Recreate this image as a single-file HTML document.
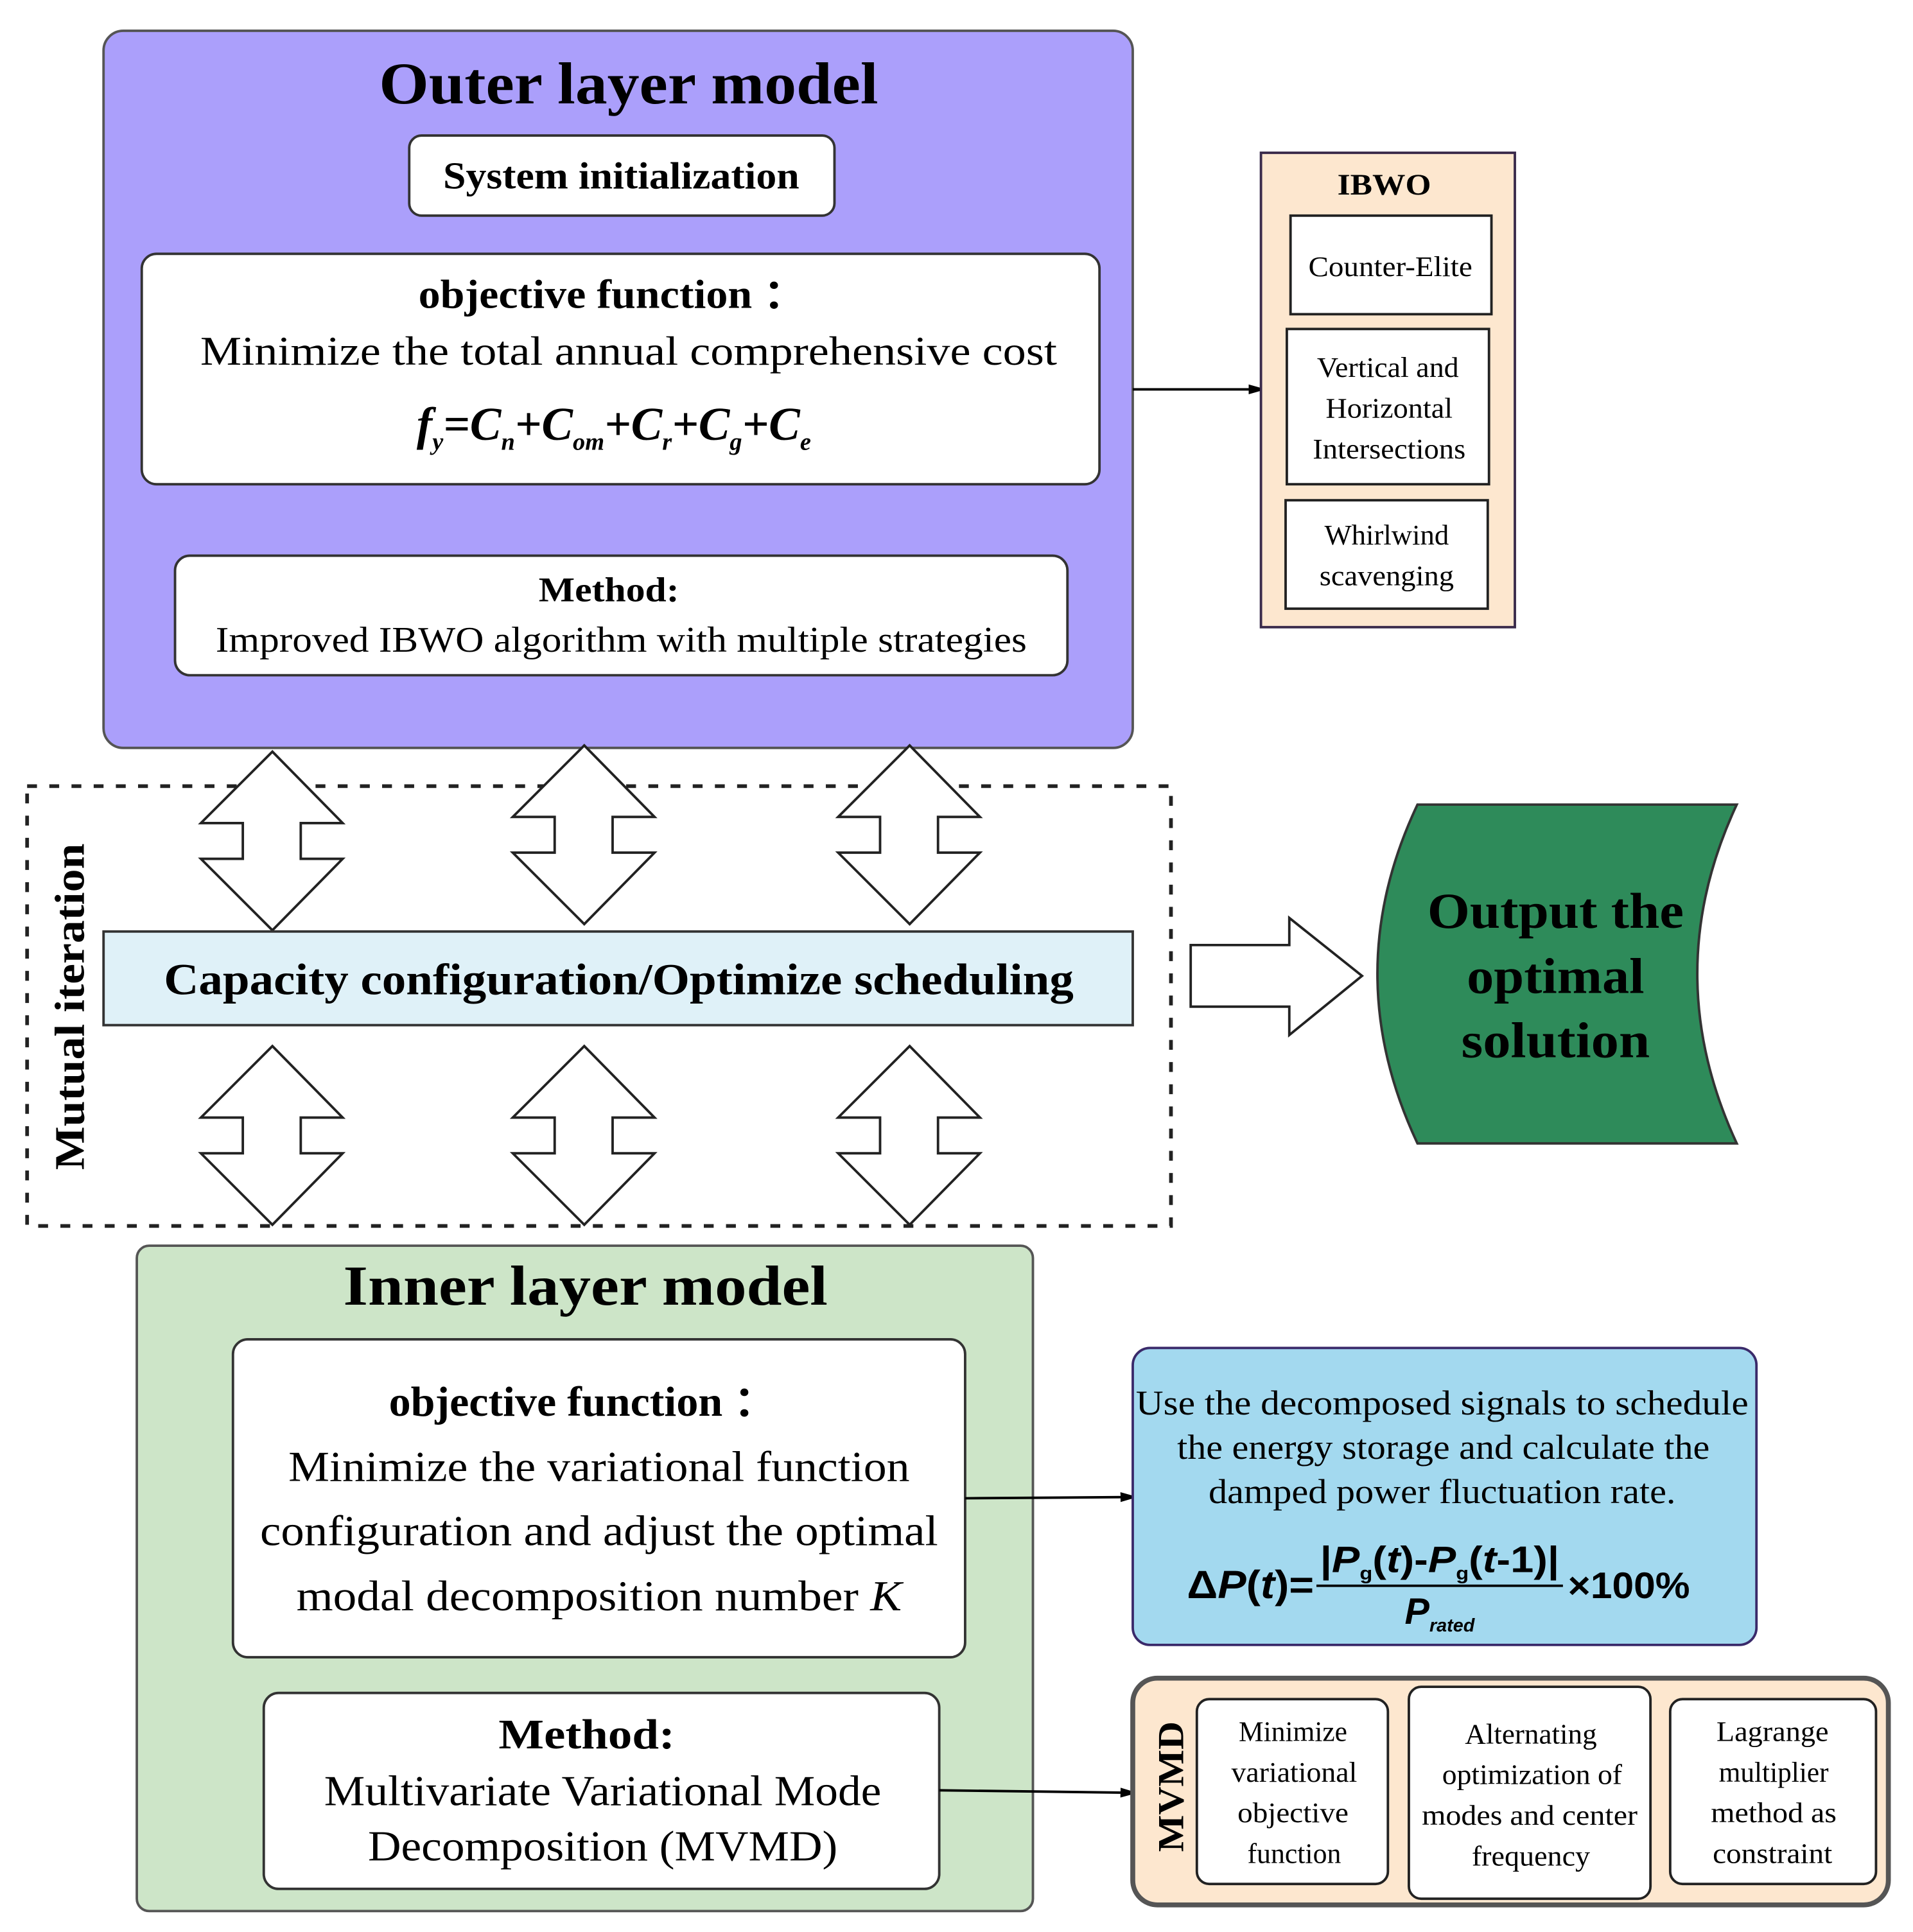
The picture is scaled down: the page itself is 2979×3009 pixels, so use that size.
<!DOCTYPE html>
<html><head><meta charset="utf-8"><style>html,body{margin:0;padding:0;background:#fff}svg{display:block}</style></head>
<body>
<svg width="2979" height="3009" viewBox="0 0 1552 1568" preserveAspectRatio="none" xmlns="http://www.w3.org/2000/svg" font-family="Liberation Serif, serif">
<defs><marker id="ah" markerWidth="10" markerHeight="8" refX="10" refY="4" orient="auto" markerUnits="userSpaceOnUse"><path d="M0,0 L14,4 L0,8 Z" fill="#000"/></marker></defs>
<rect x="84" y="25" width="835" height="582" rx="16" fill="#ab9ffb" stroke="#555" stroke-width="2"/>
<text x="510" y="84" text-anchor="middle" font-size="48" font-weight="bold" textLength="405" lengthAdjust="spacingAndGlyphs">Outer layer model</text>
<rect x="332" y="110" width="345" height="65" rx="10" fill="#fff" stroke="#333" stroke-width="2"/>
<text x="504" y="153" text-anchor="middle" font-size="31" font-weight="bold" textLength="289" lengthAdjust="spacingAndGlyphs">System initialization</text>
<rect x="115" y="206" width="777" height="187" rx="12" fill="#fff" stroke="#333" stroke-width="2"/>
<text x="497" y="250" text-anchor="middle" font-size="33" font-weight="bold" textLength="315" lengthAdjust="spacingAndGlyphs">objective function ：</text>
<text x="510" y="296" text-anchor="middle" font-size="33" textLength="695" lengthAdjust="spacingAndGlyphs">Minimize the total annual comprehensive cost</text>
<text x="498" y="357" text-anchor="middle" font-size="38" font-weight="bold" font-style="italic">f<tspan font-size="20" dy="8">y</tspan><tspan dy="-8">=C</tspan><tspan font-size="20" dy="8">n</tspan><tspan dy="-8">+C</tspan><tspan font-size="20" dy="8">om</tspan><tspan dy="-8">+C</tspan><tspan font-size="20" dy="8">r</tspan><tspan dy="-8">+C</tspan><tspan font-size="20" dy="8">g</tspan><tspan dy="-8">+C</tspan><tspan font-size="20" dy="8">e</tspan></text>
<rect x="142" y="451" width="724" height="97" rx="12" fill="#fff" stroke="#333" stroke-width="2"/>
<text x="494" y="488" text-anchor="middle" font-size="28" font-weight="bold" textLength="114" lengthAdjust="spacingAndGlyphs">Method:</text>
<text x="504" y="529" text-anchor="middle" font-size="29" textLength="658" lengthAdjust="spacingAndGlyphs">Improved IBWO algorithm with multiple strategies</text>
<line x1="919" y1="316" x2="1023" y2="316" stroke="#000" stroke-width="2" marker-end="url(#ah)"/>
<rect x="1023" y="124" width="206" height="385" fill="#fde7cf" stroke="#3a2a4a" stroke-width="2"/>
<text x="1123" y="158" text-anchor="middle" font-size="24" font-weight="bold" textLength="76" lengthAdjust="spacingAndGlyphs">IBWO</text>
<rect x="1047" y="175" width="163" height="80" fill="#fff" stroke="#222" stroke-width="2"/>
<text x="1128" y="224" text-anchor="middle" font-size="23" textLength="133" lengthAdjust="spacingAndGlyphs">Counter-Elite</text>
<rect x="1044" y="267" width="164" height="126" fill="#fff" stroke="#222" stroke-width="2"/>
<text x="1126" y="306" text-anchor="middle" font-size="23" textLength="115" lengthAdjust="spacingAndGlyphs">Vertical and</text>
<text x="1127" y="339" text-anchor="middle" font-size="23" textLength="103" lengthAdjust="spacingAndGlyphs">Horizontal</text>
<text x="1127" y="372" text-anchor="middle" font-size="23" textLength="124" lengthAdjust="spacingAndGlyphs">Intersections</text>
<rect x="1043" y="406" width="164" height="88" fill="#fff" stroke="#222" stroke-width="2"/>
<text x="1125" y="442" text-anchor="middle" font-size="23" textLength="101" lengthAdjust="spacingAndGlyphs">Whirlwind</text>
<text x="1125" y="475" text-anchor="middle" font-size="23" textLength="109" lengthAdjust="spacingAndGlyphs">scavenging</text>
<rect x="22" y="638" width="928" height="357" fill="none" stroke="#222" stroke-width="3" stroke-dasharray="8,10"/>
<text transform="translate(68,817) rotate(-90)" text-anchor="middle" font-size="34" font-weight="bold" textLength="265" lengthAdjust="spacingAndGlyphs">Mutual iteration</text>
<g fill="#fff" stroke="#222" stroke-width="2">
<path d="M221,610 L278,668 L244,668 L244,697 L278,697 L221,755 L163,697 L197,697 L197,668 L163,668 Z"/>
<path d="M474,605 L531,663 L497,663 L497,692 L531,692 L474,750 L416,692 L450,692 L450,663 L416,663 Z"/>
<path d="M738,605 L795,663 L761,663 L761,692 L795,692 L738,750 L680,692 L714,692 L714,663 L680,663 Z"/>
<path d="M221,849 L278,907 L244,907 L244,936 L278,936 L221,994 L163,936 L197,936 L197,907 L163,907 Z"/>
<path d="M474,849 L531,907 L497,907 L497,936 L531,936 L474,994 L416,936 L450,936 L450,907 L416,907 Z"/>
<path d="M738,849 L795,907 L761,907 L761,936 L795,936 L738,994 L680,936 L714,936 L714,907 L680,907 Z"/>
<path d="M966,767 L1046,767 L1046,745 L1105,792 L1046,840 L1046,817 L966,817 Z"/>
</g>
<rect x="84" y="756" width="835" height="76" fill="#dff1f8" stroke="#333" stroke-width="2"/>
<text x="502" y="807" text-anchor="middle" font-size="36" font-weight="bold" textLength="738" lengthAdjust="spacingAndGlyphs">Capacity configuration/Optimize scheduling</text>
<path d="M1150,653 L1409,653 Q1345,790 1409,928 L1150,928 Q1085,790 1150,653 Z" fill="#2e8b5a" stroke="#333" stroke-width="2"/>
<text x="1262" y="753" text-anchor="middle" font-size="41" font-weight="bold" textLength="208" lengthAdjust="spacingAndGlyphs">Output the</text>
<text x="1262" y="806" text-anchor="middle" font-size="41" font-weight="bold" textLength="144" lengthAdjust="spacingAndGlyphs">optimal</text>
<text x="1262" y="858" text-anchor="middle" font-size="41" font-weight="bold" textLength="153" lengthAdjust="spacingAndGlyphs">solution</text>
<rect x="111" y="1011" width="727" height="540" rx="10" fill="#cde5c8" stroke="#555" stroke-width="2"/>
<text x="475" y="1059" text-anchor="middle" font-size="46" font-weight="bold" textLength="393" lengthAdjust="spacingAndGlyphs">Inner layer model</text>
<rect x="189" y="1087" width="594" height="258" rx="12" fill="#fff" stroke="#333" stroke-width="2"/>
<text x="473" y="1149" text-anchor="middle" font-size="34" font-weight="bold" textLength="315" lengthAdjust="spacingAndGlyphs">objective function ：</text>
<text x="486" y="1202" text-anchor="middle" font-size="35" textLength="504" lengthAdjust="spacingAndGlyphs">Minimize the variational function</text>
<text x="486" y="1254" text-anchor="middle" font-size="35" textLength="550" lengthAdjust="spacingAndGlyphs">configuration and adjust the optimal</text>
<text x="486" y="1307" text-anchor="middle" font-size="35" textLength="491" lengthAdjust="spacingAndGlyphs">modal decomposition number <tspan font-style="italic">K</tspan></text>
<rect x="214" y="1374" width="548" height="159" rx="12" fill="#fff" stroke="#333" stroke-width="2"/>
<text x="476" y="1419" text-anchor="middle" font-size="34" font-weight="bold" textLength="143" lengthAdjust="spacingAndGlyphs">Method:</text>
<text x="489" y="1465" text-anchor="middle" font-size="35" textLength="452" lengthAdjust="spacingAndGlyphs">Multivariate Variational Mode</text>
<text x="489" y="1510" text-anchor="middle" font-size="35" textLength="381" lengthAdjust="spacingAndGlyphs">Decomposition (MVMD)</text>
<line x1="783" y1="1216" x2="919" y2="1215" stroke="#000" stroke-width="2" marker-end="url(#ah)"/>
<line x1="762" y1="1453" x2="919" y2="1455" stroke="#000" stroke-width="2" marker-end="url(#ah)"/>
<rect x="919" y="1094" width="506" height="241" rx="14" fill="#a3d9ef" stroke="#3a2a6a" stroke-width="2"/>
<text x="1170" y="1148" text-anchor="middle" font-size="28" textLength="497" lengthAdjust="spacingAndGlyphs">Use the decomposed signals to schedule</text>
<text x="1171" y="1184" text-anchor="middle" font-size="28" textLength="432" lengthAdjust="spacingAndGlyphs">the energy storage and calculate the</text>
<text x="1170" y="1220" text-anchor="middle" font-size="28" textLength="379" lengthAdjust="spacingAndGlyphs">damped power fluctuation rate.</text>
<g font-family="Liberation Sans, sans-serif" font-weight="bold">
<text x="963" y="1297" font-size="32" textLength="103" lengthAdjust="spacingAndGlyphs">Δ<tspan font-style="italic">P</tspan>(<tspan font-style="italic">t</tspan>)=</text>
<text x="1168" y="1276" text-anchor="middle" font-size="30" textLength="194" lengthAdjust="spacingAndGlyphs">|<tspan font-style="italic">P</tspan><tspan font-size="15" dy="6">g</tspan><tspan dy="-6">(</tspan><tspan font-style="italic">t</tspan>)-<tspan font-style="italic">P</tspan><tspan font-size="15" dy="6">g</tspan><tspan dy="-6">(</tspan><tspan font-style="italic">t</tspan>-1)|</text>
<line x1="1068" y1="1287" x2="1268" y2="1287" stroke="#000" stroke-width="2"/>
<text x="1168" y="1318" text-anchor="middle" font-size="30" font-style="italic">P<tspan font-size="15" dy="6">rated</tspan></text>
<text x="1272" y="1297" font-size="30" textLength="99" lengthAdjust="spacingAndGlyphs">×100%</text>
</g>
<rect x="919" y="1362" width="613" height="184" rx="20" fill="#fde7cf" stroke="#555" stroke-width="4"/>
<text transform="translate(960,1450) rotate(-90)" text-anchor="middle" font-size="30" font-weight="bold" textLength="106" lengthAdjust="spacingAndGlyphs">MVMD</text>
<rect x="971" y="1379" width="155" height="150" rx="10" fill="#fff" stroke="#222" stroke-width="2"/>
<text x="1049" y="1413" text-anchor="middle" font-size="23" textLength="88" lengthAdjust="spacingAndGlyphs">Minimize</text>
<text x="1050" y="1446" text-anchor="middle" font-size="23" textLength="102" lengthAdjust="spacingAndGlyphs">variational</text>
<text x="1049" y="1479" text-anchor="middle" font-size="23" textLength="90" lengthAdjust="spacingAndGlyphs">objective</text>
<text x="1050" y="1512" text-anchor="middle" font-size="23" textLength="76" lengthAdjust="spacingAndGlyphs">function</text>
<rect x="1143" y="1369" width="196" height="172" rx="10" fill="#fff" stroke="#222" stroke-width="2"/>
<text x="1242" y="1415" text-anchor="middle" font-size="23" textLength="107" lengthAdjust="spacingAndGlyphs">Alternating</text>
<text x="1243" y="1448" text-anchor="middle" font-size="23" textLength="146" lengthAdjust="spacingAndGlyphs">optimization of</text>
<text x="1241" y="1481" text-anchor="middle" font-size="23" textLength="175" lengthAdjust="spacingAndGlyphs">modes and center</text>
<text x="1242" y="1514" text-anchor="middle" font-size="23" textLength="96" lengthAdjust="spacingAndGlyphs">frequency</text>
<rect x="1355" y="1379" width="167" height="150" rx="10" fill="#fff" stroke="#222" stroke-width="2"/>
<text x="1438" y="1413" text-anchor="middle" font-size="23" textLength="91" lengthAdjust="spacingAndGlyphs">Lagrange</text>
<text x="1439" y="1446" text-anchor="middle" font-size="23" textLength="89" lengthAdjust="spacingAndGlyphs">multiplier</text>
<text x="1439" y="1479" text-anchor="middle" font-size="23" textLength="102" lengthAdjust="spacingAndGlyphs">method as</text>
<text x="1438" y="1512" text-anchor="middle" font-size="23" textLength="97" lengthAdjust="spacingAndGlyphs">constraint</text>
</svg>
</body></html>
